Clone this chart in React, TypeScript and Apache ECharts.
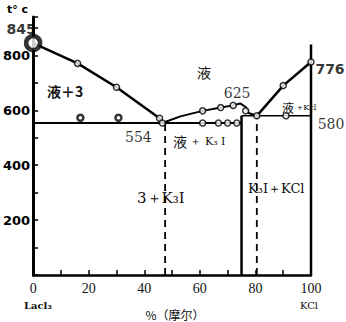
import React, { useEffect, useRef } from "react";
import * as echarts from "echarts";

// ---- data (mol % KCl, temperature °C) ----
const leftLiquidus = [[0, 845], [16, 771], [30, 684], [45.5, 571], [46.5, 554]];
const eutecticLeft = [[0, 554], [46.5, 554]];
const k3Liquidus = [[46.5, 554], [53, 578], [61, 598], [67.5, 610], [72, 618], [74.5, 625], [76.5, 612], [77.5, 590], [80.5, 580]];
const middleSolidus = [[46.5, 554], [75, 554]];
const eutecticRight = [[75, 580], [100, 580]];
const rightLiquidus = [[80.5, 580], [90, 690], [100, 776]];
const compoundLine = [[75, 0], [75, 580]];
const kclLine = [[100, 0], [100, 840]];
const dashedLeft = [[47.5, 0], [47.5, 554]];
const dashedRight = [[80.5, 0], [80.5, 580]];
const openPoints = [
  [16, 771], [30, 684], [45.5, 571], [46.5, 554],
  [61, 598], [67.5, 610], [72, 618], [76.5, 598],
  [61, 554], [66.7, 554], [70, 554], [73.3, 554],
  [80.5, 580], [91, 580], [90, 690], [100, 776],
];
const arrestPoints = [[17, 573], [30.7, 573]];
const meltLaCl3 = [[0, 845]];
const valueLabels = [
  { value: [0, 845], offset: [-12, -14], bold: true },
  { value: [100, 776], offset: [19, 7], bold: true },
  { value: [74.5, 625], offset: [-3, -10], bold: false },
  { value: [100, 580], offset: [20, 8], bold: false },
  { value: [46.5, 554], offset: [-24, 14], bold: false },
];
const xTickLabels = [0, 20, 40, 60, 80, 100];
const yTickLabels = [200, 400, 600, 800];

const lineSeries = (data: number[][], width = 2, type: any = "solid") => ({
  type: "line",
  data,
  symbol: "none",
  silent: true,
  lineStyle: { color: "#000", width, type },
  z: 2,
});

export default function App() {
  const ref = useRef<HTMLDivElement>(null);
  useEffect(() => {
    const chart = echarts.init(ref.current!, null, { renderer: "svg" });
    const txt = (x: number, y: number, text: string, fontSize: number, fontFamily: string, extra: any = {}) => ({
      type: "text",
      x,
      y,
      style: { text, fontSize, fontFamily, fill: "#111", align: "left", verticalAlign: "middle", ...extra },
    });
    chart.setOption({
      animation: false,
      backgroundColor: "#fff",
      grid: { left: 33, right: 35, top: 17, bottom: 47 },
      xAxis: {
        type: "value",
        min: 0,
        max: 100,
        interval: 10,
        splitLine: { show: false },
        axisLine: { lineStyle: { color: "#000", width: 2.5 } },
        axisTick: { inside: true, length: 5, lineStyle: { color: "#000", width: 1.5 } },
        axisLabel: {
          margin: 6,
          color: "#111",
          fontSize: 14,
          fontFamily: "Liberation Serif",
          formatter: (v: number) => (xTickLabels.includes(v) ? String(v) : ""),
        },
      },
      yAxis: {
        type: "value",
        min: 0,
        max: 940,
        interval: 100,
        splitLine: { show: false },
        axisLine: { lineStyle: { color: "#000", width: 3 } },
        axisTick: { inside: true, length: 5, lineStyle: { color: "#000", width: 1.5 } },
        axisLabel: {
          margin: 3,
          color: "#000",
          fontSize: 13,
          fontWeight: "bold",
          fontFamily: "DejaVu Sans",
          formatter: (v: number) => (yTickLabels.includes(v) ? String(v) : ""),
        },
      },
      series: [
        lineSeries(leftLiquidus, 2.5),
        lineSeries(eutecticLeft, 2),
        lineSeries(k3Liquidus, 2),
        lineSeries(middleSolidus, 2),
        lineSeries(eutecticRight, 1.5),
        lineSeries(rightLiquidus, 2.5),
        lineSeries(compoundLine, 2.5),
        lineSeries(kclLine, 2.5),
        lineSeries(dashedLeft, 1.8, [7, 5]),
        lineSeries(dashedRight, 1.8, [7, 5]),
        {
          type: "scatter",
          data: openPoints,
          symbol: "circle",
          symbolSize: 6,
          itemStyle: { color: "#fff", borderColor: "#000", borderWidth: 1.5 },
          z: 3,
        },
        {
          type: "scatter",
          data: arrestPoints,
          symbol: "circle",
          symbolSize: 6,
          itemStyle: { color: "#fff", borderColor: "#000", borderWidth: 2.5 },
          z: 3,
        },
        {
          type: "scatter",
          data: meltLaCl3,
          symbol: "circle",
          symbolSize: 14,
          itemStyle: { color: "#fff", borderColor: "#000", borderWidth: 4.5 },
          z: 4,
        },
        {
          type: "scatter",
          data: valueLabels.map((d) => ({
            value: d.value,
            label: {
              show: true,
              position: "inside",
              offset: d.offset,
              fontWeight: d.bold ? "bold" : "normal",
              fontFamily: d.bold ? "DejaVu Sans" : "DejaVu Serif",
              formatter: (p: any) => String(p.value[1]),
            },
          })),
          symbolSize: 0,
          itemStyle: { color: "transparent" },
          label: { color: "#000", fontSize: 14 },
          z: 5,
        },
      ],
      graphic: [
        txt(7, 9, "t° c", 11, "DejaVu Sans", { fontWeight: "bold", fill: "#000" }),
        txt(197, 72, "液", 14, "Noto Sans CJK SC"),
        txt(47, 91, "液＋3", 14, "Noto Sans CJK SC", { fontWeight: "bold" }),
        {
          type: "text", x: 282, y: 107,
          style: {
            text: "{a|液}{b| +Kcl}",
            rich: { a: { fontSize: 12, fontFamily: "Noto Sans CJK SC", fill: "#111" }, b: { fontSize: 8, fontFamily: "DejaVu Serif", fill: "#111" } },
            align: "left", verticalAlign: "middle",
          },
        },
        {
          type: "text", x: 173, y: 141,
          style: {
            text: "{a|液}{b| ＋ K₃ I}",
            rich: { a: { fontSize: 14, fontFamily: "Noto Sans CJK SC", fill: "#111" }, b: { fontSize: 11, fontFamily: "DejaVu Serif", fill: "#111" } },
            align: "left", verticalAlign: "middle",
          },
        },
        txt(137, 198, "3＋K₃I", 15, "DejaVu Serif"),
        txt(248, 188, "K₃I＋KCl", 13, "DejaVu Serif"),
        txt(24, 305, "Lacl₃", 10, "DejaVu Serif", { fontWeight: "bold" }),
        { type: "text", x: 175, y: 314, style: { text: "%（摩尔）", fontSize: 12, fontFamily: "Noto Sans CJK SC", fill: "#111", align: "center", verticalAlign: "middle" } },
        txt(300, 305, "KCl", 10, "DejaVu Serif"),
      ],
    });
    return () => chart.dispose();
  }, []);
  return <div ref={ref} style={{ position: "fixed", left: 0, top: 0, width: 346, height: 322 }} />;
}
